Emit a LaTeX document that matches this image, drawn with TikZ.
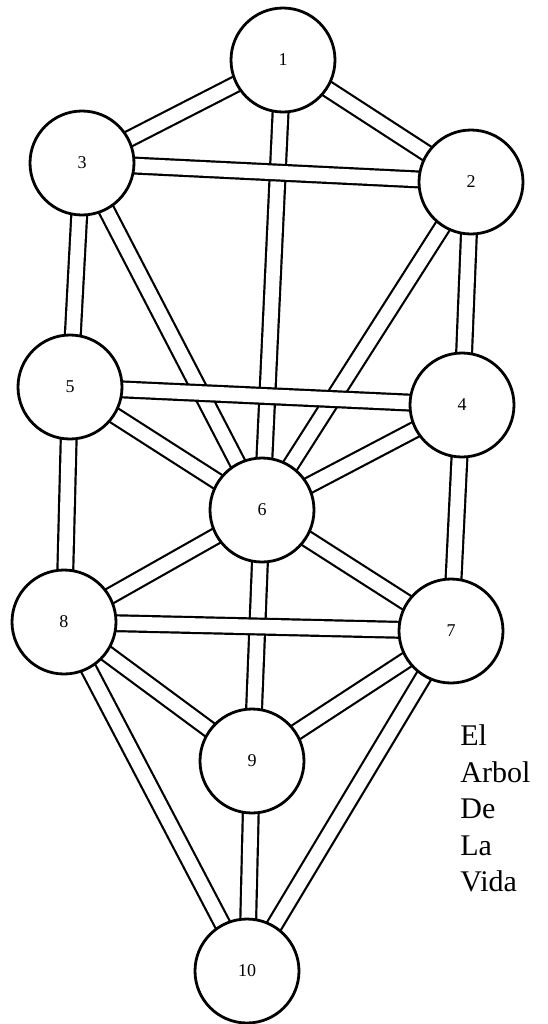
\documentclass[tikz,border=0pt]{standalone}
\usepackage{fontspec}
\setmainfont{Liberation Serif}
\usetikzlibrary{backgrounds}
\begin{document}
\begin{tikzpicture}[x=50pt, y=-50pt,
    sefira/.style={circle, draw, line width=1.4pt, fill=white, minimum size=52pt, inner sep=0pt, font=\fontsize{9}{11}\selectfont},
    sendero/.style={line width=1.1pt, double=white, double distance=6.8pt}]
    \useasboundingbox (0,0) rectangle (5.47,10.24);
    \node (n1) at (2.83,0.60) [sefira] {1};
    \node (n3) at (0.82,1.63) [sefira] {3};
    \node (n2) at (4.71,1.82) [sefira] {2};
    \node (n5) at (0.70,3.87) [sefira] {5};
    \node (n4) at (4.62,4.05) [sefira] {4};
    \node (n6) at (2.62,5.10) [sefira] {6};
    \node (n8) at (0.64,6.22) [sefira] {8};
    \node (n7) at (4.51,6.31) [sefira] {7};
    \node (n9) at (2.52,7.61) [sefira] {9};
    \node (n10) at (2.47,9.71) [sefira] {10};
    \node (titulo) at (4.60,7.245) [anchor=north west, align=left, inner sep=0pt, font=\fontsize{15}{18.25}\selectfont] {El\\Arbol\\De\\La\\Vida};
    \begin{pgfonlayer}{background}
    \draw[sendero] (n1.center) -- (n3.center);
    \draw[sendero] (n1.center) -- (n2.center);
    \draw[sendero] (n1.center) -- (n6.center);
    \draw[sendero] (n3.center) -- (n2.center);
    \draw[sendero] (n3.center) -- (n5.center);
    \draw[sendero] (n3.center) -- (n6.center);
    \draw[sendero] (n2.center) -- (n4.center);
    \draw[sendero] (n2.center) -- (n6.center);
    \draw[sendero] (n5.center) -- (n4.center);
    \draw[sendero] (n5.center) -- (n6.center);
    \draw[sendero] (n4.center) -- (n6.center);
    \draw[sendero] (n5.center) -- (n8.center);
    \draw[sendero] (n4.center) -- (n7.center);
    \draw[sendero] (n6.center) -- (n8.center);
    \draw[sendero] (n6.center) -- (n7.center);
    \draw[sendero] (n6.center) -- (n9.center);
    \draw[sendero] (n8.center) -- (n7.center);
    \draw[sendero] (n8.center) -- (n9.center);
    \draw[sendero] (n7.center) -- (n9.center);
    \draw[sendero] (n8.center) -- (n10.center);
    \draw[sendero] (n7.center) -- (n10.center);
    \draw[sendero] (n9.center) -- (n10.center);
    \end{pgfonlayer}
\end{tikzpicture}
\end{document}
